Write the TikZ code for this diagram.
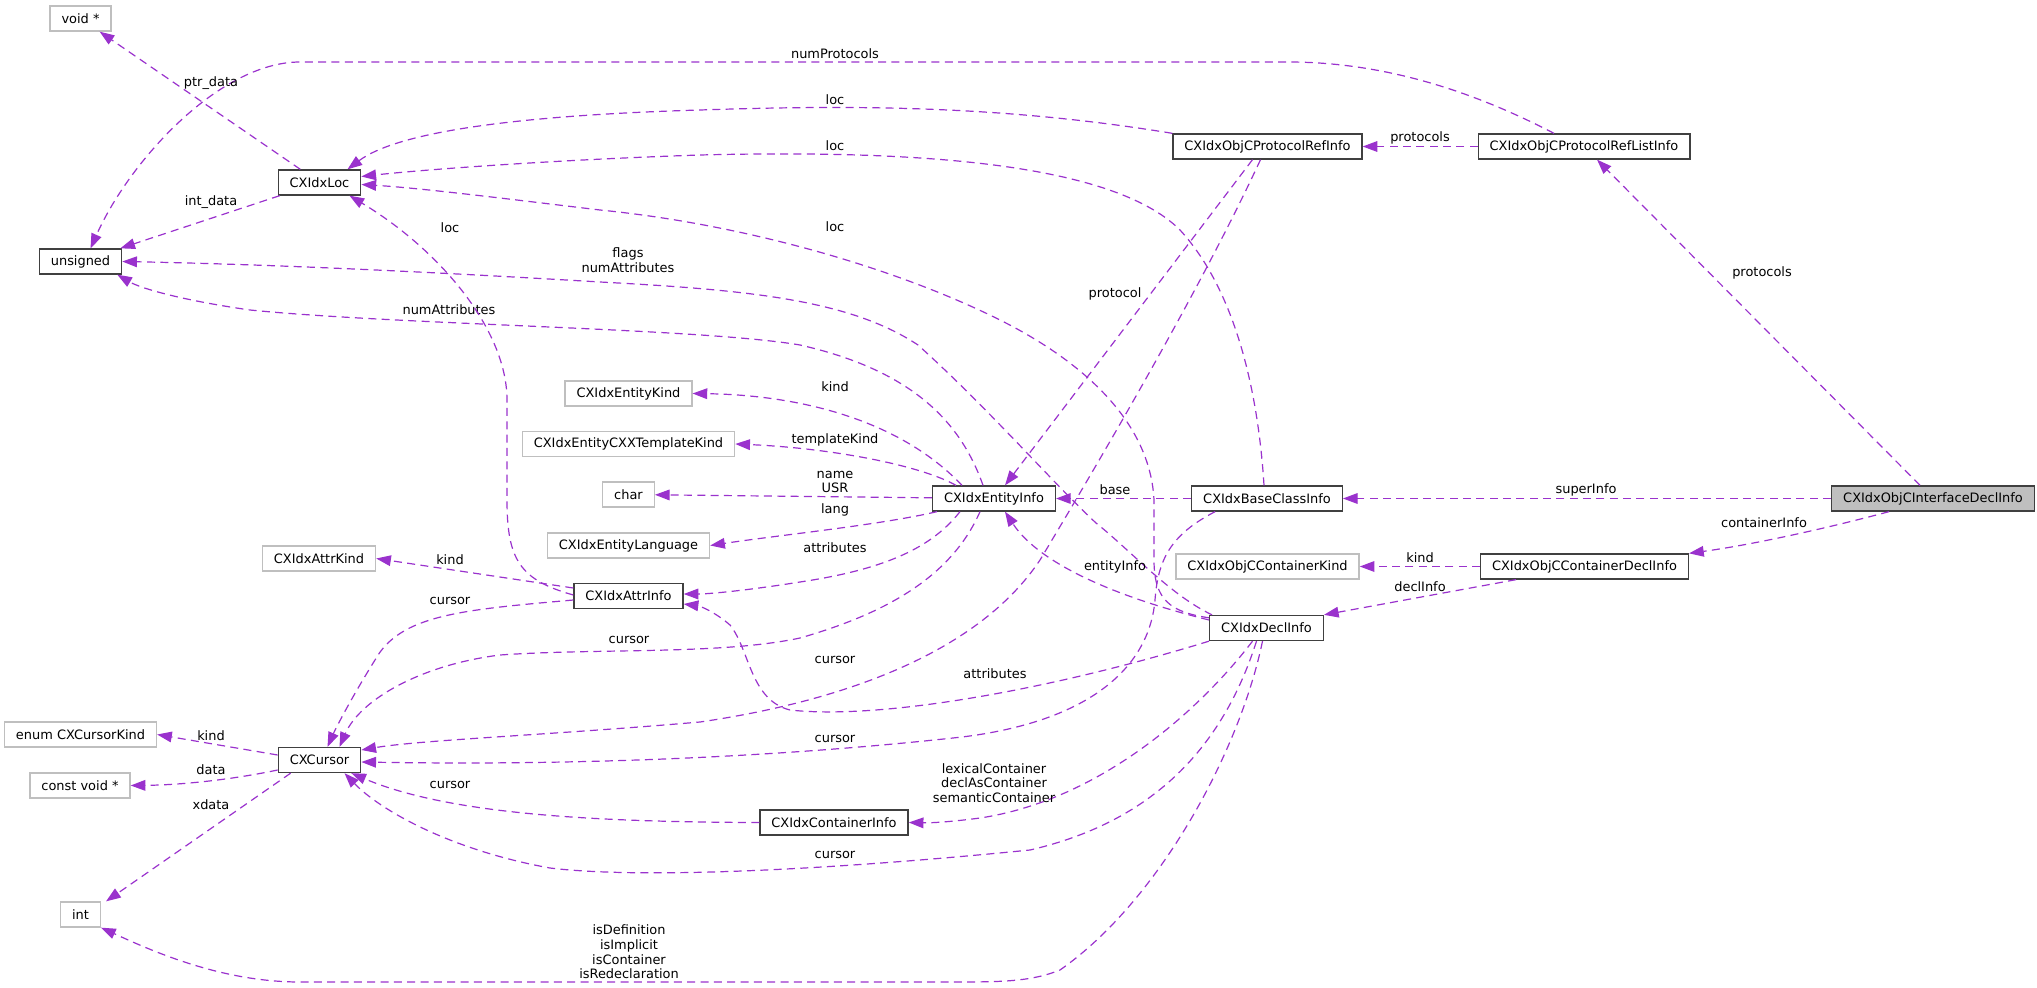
\documentclass[tikz,border=0pt]{standalone}
\usepackage{fontspec}
\setmainfont{DejaVu Sans}
\usepackage{tikz}
\usetikzlibrary{arrows.meta, calc}
\definecolor{edgepurple}{RGB}{154,50,205}
\definecolor{boxgray}{RGB}{191,191,191}
\definecolor{boxdark}{RGB}{64,64,64}

\begin{document}
\begin{tikzpicture}[x=0.75pt, y=-0.75pt,
  every node/.style={font=\fontsize{9.7}{11}\selectfont},
  cls/.style={draw=boxdark, line width=1pt, fill=white, minimum height=18.75pt, inner xsep=8.6pt, inner ysep=0pt},
  ext/.style={cls, draw=boxgray},
  lbl/.style={align=center, inner sep=0pt},
  rel/.style={draw=edgepurple, line width=0.9pt, dash pattern=on 6pt off 4pt, -{Triangle[length=11pt,width=8pt]}}]
  \useasboundingbox (0,0) rectangle (2037,988);

  % Column 1: plain types
  \node[ext] (voidptr) at (80.5,18.5) {void *};
  \node[cls] (unsignedt) at (80.5,261.5) {unsigned};
  \node[ext] (curkind) at (80.5,734.5) {enum CXCursorKind};
  \node[ext] (cvoid) at (80,785.5) {const void *};
  \node[ext] (intty) at (80.5,914.5) {int};

  % Column 2
  \node[cls] (idxloc) at (319.5,182.5) {CXIdxLoc};
  \node[ext] (attrkind) at (319,558.5) {CXIdxAttrKind};
  \node[cls] (cursor) at (319.5,760) {CXCursor};

  % Column 3
  \node[ext] (entkind) at (628.5,393.5) {CXIdxEntityKind};
  \node[ext] (tplkind) at (628.5,444) {CXIdxEntityCXXTemplateKind};
  \node[ext] (chart) at (628.5,494.5) {char};
  \node[ext] (langk) at (628.5,545.5) {CXIdxEntityLanguage};
  \node[cls] (attrinfo) at (628.5,596) {CXIdxAttrInfo};

  % Column 4
  \node[cls] (entinfo) at (994,498.5) {CXIdxEntityInfo};
  \node[cls] (continfo) at (834,822.5) {CXIdxContainerInfo};

  % Column 5
  \node[cls] (protoref) at (1267.5,146.5) {CXIdxObjCProtocolRefInfo};
  \node[cls] (baseinfo) at (1267,498.5) {CXIdxBaseClassInfo};
  \node[ext] (contkind) at (1267.5,566.5) {CXIdxObjCContainerKind};
  \node[cls] (declinfo) at (1266.5,628) {CXIdxDeclInfo};

  % Column 6
  \node[cls] (protolist) at (1584,146.5) {CXIdxObjCProtocolRefListInfo};
  \node[cls] (contdecl) at (1584.5,566.5) {CXIdxObjCContainerDeclInfo};

  % Column 7: the class itself
  \node[cls, fill=boxgray] (iface) at (1933,498.5) {CXIdxObjCInterfaceDeclInfo};

  % CXIdxObjCInterfaceDeclInfo
  \draw[rel] (iface) -- (baseinfo);
  \draw[rel] (iface) -- (protolist);
  \draw[rel] ($(iface.south)+(-44,0)$) .. controls (1820,530) and (1750,545) .. (contdecl.north east);
  \node[lbl] (l-super) at (1586,490) {superInfo};
  \node[lbl] (l-protos) at (1762,273) {protocols};
  \node[lbl] (l-contin) at (1764,523) {containerInfo};

  % CXIdxObjCContainerDeclInfo
  \draw[rel] (contdecl) -- (contkind);
  \draw[rel] ($(contdecl.south west)+(36,0)$) -- (declinfo.north east);
  \node[lbl] (l-ckind) at (1420,558) {kind};
  \node[lbl] (l-declin) at (1420,587) {declInfo};

  % CXIdxObjCProtocolRefListInfo
  \draw[rel] (protolist) -- (protoref);
  \draw[rel] ($(protolist.north)+(-30,0)$) .. controls (1480,95) and (1390,62) .. (1288,62)
    -- (300,62) .. controls (220,62) and (130,160) .. ($(unsignedt.north)+(10,0)$);
  \node[lbl] (l-plist) at (1420,138) {protocols};
  \node[lbl] (l-nprot) at (835,54) {numProtocols};

  % CXIdxObjCProtocolRefInfo
  \draw[rel] ($(protoref.south)+(-15,0)$) -- ($(entinfo.north)+(11,0)$);
  \draw[rel] (protoref.north west) .. controls (1000,105) and (850,105) .. (700,110)
    .. controls (530,115) and (400,130) .. ($(idxloc.north)+(28,0)$);
  \draw[rel] ($(protoref.south)+(-7,0)$) .. controls (1200,290) and (1100,460) .. (1040,560)
    .. controls (980,650) and (850,700) .. (700,722) .. controls (550,735) and (420,740) .. ($(cursor.east)+(0,-10)$);
  \node[lbl] (l-protocol) at (1115,294) {protocol};
  \node[lbl] (l-prloc) at (835,100) {loc};

  % CXIdxBaseClassInfo
  \draw[rel] (baseinfo) -- (entinfo);
  \draw[rel] ($(baseinfo.north)+(-3,0)$) .. controls (1258,390) and (1235,290) .. (1180,230)
    .. controls (1110,160) and (900,150) .. (700,155) .. controls (550,160) and (420,170) .. ($(idxloc.east)+(0,-6)$);
  \draw[rel] ($(baseinfo.south west)+(24,0)$) .. controls (1170,535) and (1158,560) .. (1155,600)
    .. controls (1150,660) and (1100,720) .. (962,737) .. controls (800,755) and (600,766) .. ($(cursor.east)+(0,2)$);
  \node[lbl] (l-base) at (1115,490) {base};
  \node[lbl] (l-bloc) at (835,146) {loc};
  \node[lbl] (l-bcur) at (835,739) {cursor};

  % CXIdxDeclInfo
  \draw[rel] ($(declinfo.west)+(0,-8)$) .. controls (1120,598) and (1040,565) .. ($(entinfo.south)+(11,0)$);
  \draw[rel] ($(declinfo.north west)+(0,3)$) .. controls (1170,612) and (1154,600) .. (1154,560)
    -- (1154,500) .. controls (1150,420) and (1080,360) .. (1000,320) .. controls (900,270) and (750,225) .. (600,210)
    .. controls (500,198) and (420,188) .. ($(idxloc.east)+(0,2)$);
  \draw[rel] ($(declinfo.north west)+(3,0)$) .. controls (1170,595) and (1130,550) .. (1096,523)
    .. controls (1050,480) and (990,410) .. (918,345) .. controls (850,300) and (750,290) .. (600,282)
    .. controls (400,270) and (250,264) .. (unsignedt.east);
  \draw[rel] (declinfo.south west) .. controls (1050,690) and (880,720) .. (790,710)
    .. controls (750,700) and (750,650) .. (730,625) .. controls (715,612) and (700,606) .. ($(attrinfo.east)+(0,8)$);
  \draw[rel] ($(declinfo.south)+(-14,0)$) .. controls (1200,710) and (1100,800) .. (980,818)
    .. controls (950,822) and (930,823) .. (continfo.east);
  \draw[rel] ($(declinfo.south)+(-10,0)$) .. controls (1225,740) and (1160,820) .. (1030,850)
    .. controls (850,868) and (650,880) .. (550,868) .. controls (450,850) and (380,810) .. ($(cursor.south)+(25,0)$);
  \draw[rel] ($(declinfo.south)+(-4,0)$) .. controls (1240,750) and (1160,900) .. (1060,970)
    .. controls (1030,982) and (1000,982) .. (950,982) -- (300,982) .. controls (220,982) and (150,950) .. (intty.south east);
  \node[lbl] (l-entin) at (1115,567) {entityInfo};
  \node[lbl] (l-dloc) at (835,227) {loc};
  \node[lbl] (l-flags) at (628,260) {flags\\numAttributes};
  \node[lbl] (l-dattr) at (995,674) {attributes};
  \node[lbl] (l-conts) at (994,783) {lexicalContainer\\declAsContainer\\semanticContainer};
  \node[lbl] (l-dcur) at (835,855) {cursor};
  \node[lbl] (l-isdef) at (629,952) {isDefinition\\isImplicit\\isContainer\\isRedeclaration};

  % CXIdxEntityInfo
  \draw[rel] (entinfo) -- (chart);
  \draw[rel] ($(entinfo.north west)+(30,0)$) .. controls (900,420) and (800,395) .. (entkind.east);
  \draw[rel] ($(entinfo.north west)+(24,0)$) .. controls (920,465) and (830,448) .. (tplkind.east);
  \draw[rel] ($(entinfo.south west)+(5,0)$) .. controls (880,525) and (780,535) .. (langk.east);
  \draw[rel] ($(entinfo.south west)+(28,0)$) .. controls (930,550) and (880,570) .. (800,582)
    .. controls (750,590) and (710,594) .. ($(attrinfo.east)+(0,-2)$);
  \draw[rel] ($(entinfo.south)+(-14,0)$) .. controls (950,580) and (880,615) .. (800,638)
    .. controls (720,655) and (600,648) .. (500,655) .. controls (420,665) and (360,700) .. ($(cursor.north)+(20,0)$);
  \draw[rel] ($(entinfo.north)+(-11,0)$) .. controls (960,420) and (910,370) .. (800,345)
    .. controls (700,328) and (400,325) .. (250,310) .. controls (180,300) and (140,288) .. ($(unsignedt.south east)+(-5,0)$);
  \node[lbl] (l-ekind) at (835,387) {kind};
  \node[lbl] (l-tkind) at (835,440) {templateKind};
  \node[lbl] (l-name) at (835,482) {name\\USR};
  \node[lbl] (l-lang) at (835,510) {lang};
  \node[lbl] (l-eattr) at (835,548) {attributes};
  \node[lbl] (l-ecur) at (629,640) {cursor};
  \node[lbl] (l-nattr) at (449,310) {numAttributes};

  % CXIdxAttrInfo
  \draw[rel] ($(attrinfo.west)+(0,-8)$) -- (attrkind.east);
  \draw[rel] ($(attrinfo.west)+(0,4)$) .. controls (460,610) and (400,615) .. (375,660)
    .. controls (350,700) and (335,730) .. ($(cursor.north)+(8,0)$);
  \draw[rel] ($(attrinfo.west)+(0,-1)$) .. controls (520,580) and (507,560) .. (507,500)
    -- (507,400) .. controls (507,330) and (440,250) .. ($(idxloc.south)+(30,0)$);
  \node[lbl] (l-akind) at (450,560) {kind};
  \node[lbl] (l-acur) at (450,601) {cursor};
  \node[lbl] (l-aloc) at (450,228) {loc};

  % CXIdxContainerInfo
  \draw[rel] (continfo.west) .. controls (600,822) and (450,815) .. ($(cursor.south east)+(-10,0)$);
  \node[lbl] (l-ccur) at (450,785) {cursor};
  \node[lbl] (l-pcur) at (835,660) {cursor};

  % CXCursor
  \draw[rel] ($(cursor.west)+(0,-5)$) -- (curkind.east);
  \draw[rel] ($(cursor.west)+(0,10)$) .. controls (230,780) and (180,785) .. (cvoid.east);
  \draw[rel] ($(cursor.south west)+(13,0)$) -- ($(intty.north east)+(5,0)$);
  \node[lbl] (l-ckind2) at (211,736) {kind};
  \node[lbl] (l-cdata) at (211,770) {data};
  \node[lbl] (l-xdata) at (211,805) {xdata};

  % CXIdxLoc
  \draw[rel] (idxloc) -- (voidptr);
  \draw[rel] (idxloc) -- (unsignedt);
  \node[lbl] (l-ptr) at (211,83) {ptr\_data};
  \node[lbl] (l-int) at (211,202) {int\_data};

\end{tikzpicture}
\end{document}
